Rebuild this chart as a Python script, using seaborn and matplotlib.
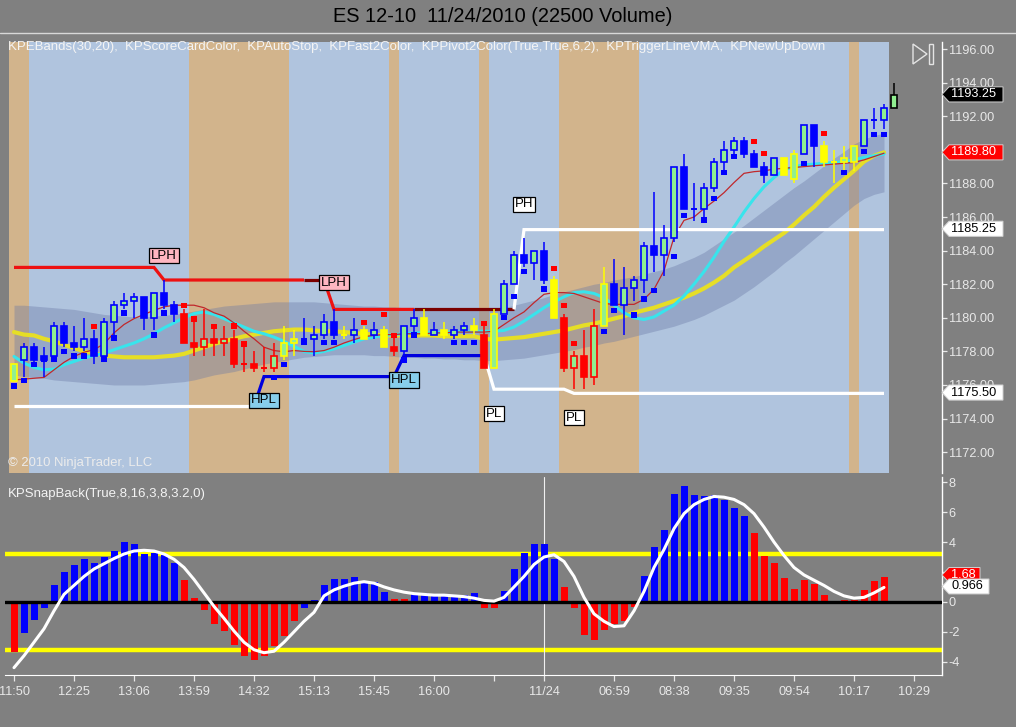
import itertools
import numpy as np
import matplotlib
matplotlib.use("Agg")
import matplotlib.pyplot as plt
from matplotlib.patches import Rectangle, Polygon
from matplotlib.lines import Line2D
import matplotlib.transforms as mtransforms
import seaborn as sns

# ---------------- price bars (one per 22500 contracts) ----------------
opens = [1176.25, 1177.5, 1178.25, 1177.5, 1177.75, 1179.5, 1178.5, 1178.25, 1178.75, 1177.75,
         1179.75, 1180.75, 1181.0, 1181.25, 1180.0, 1181.5, 1180.75, 1180.25, 1178.5, 1178.25,
         1178.75, 1178.5, 1178.75, 1177.25, 1177.25, 1177.0, 1177.0, 1177.75, 1178.5, 1178.75,
         1178.75, 1179.0, 1179.75, 1179.0, 1179.0, 1179.25, 1179.0, 1179.25, 1178.25, 1178.0,
         1179.5, 1180.0, 1179.0, 1179.25, 1179.0, 1179.25, 1179.5, 1179.0, 1177.0, 1180.25,
         1182.0, 1183.75, 1183.25, 1184.0, 1182.25, 1180.0, 1177.0, 1177.75, 1176.5, 1179.5,
         1182.0, 1180.75, 1181.75, 1182.25, 1184.25, 1183.75, 1184.75, 1189.0, 1186.5, 1186.5,
         1187.75, 1189.25, 1190.0, 1190.5, 1189.75, 1189.0, 1188.5, 1189.5, 1188.25, 1189.75,
         1191.5, 1190.25, 1189.25, 1189.25, 1189.25, 1190.25, 1191.75, 1191.75, 1192.5]
highs = [1177.25, 1178.5, 1178.5, 1178.25, 1179.75, 1179.75, 1179.5, 1180.0, 1179.25, 1180.0,
         1181.0, 1181.5, 1181.5, 1181.25, 1181.5, 1182.25, 1181.0, 1180.5, 1179.75, 1180.5,
         1179.5, 1179.5, 1179.25, 1178.25, 1178.0, 1178.25, 1178.5, 1179.5, 1179.25, 1180.0,
         1179.5, 1180.25, 1180.5, 1179.5, 1180.0, 1179.5, 1179.75, 1179.5, 1179.0, 1179.5,
         1180.5, 1180.5, 1179.75, 1179.75, 1179.5, 1179.75, 1180.0, 1179.5, 1180.5, 1182.25,
         1184.0, 1184.75, 1184.0, 1184.5, 1182.5, 1180.25, 1178.0, 1179.25, 1180.5, 1183.0,
         1183.5, 1183.0, 1182.5, 1184.5, 1187.5, 1185.5, 1189.0, 1189.75, 1188.0, 1188.0,
         1189.5, 1190.5, 1190.75, 1190.75, 1190.0, 1189.25, 1189.5, 1189.5, 1190.0, 1191.5,
         1191.5, 1190.5, 1190.0, 1190.25, 1190.25, 1191.75, 1192.5, 1192.75, 1194.0]
lows = [1176.25, 1176.5, 1177.25, 1176.5, 1177.75, 1178.25, 1178.0, 1178.0, 1177.25, 1177.5,
        1179.0, 1180.5, 1180.0, 1179.25, 1179.25, 1180.5, 1179.75, 1178.5, 1177.75, 1177.75,
        1177.75, 1177.75, 1177.0, 1176.75, 1176.75, 1176.75, 1176.75, 1177.5, 1177.75, 1178.5,
        1177.75, 1178.75, 1178.75, 1178.75, 1178.5, 1178.75, 1178.75, 1178.25, 1177.75, 1177.75,
        1179.0, 1179.0, 1179.0, 1178.75, 1178.75, 1179.0, 1179.0, 1177.0, 1177.0, 1180.25,
        1182.0, 1183.0, 1182.25, 1182.0, 1180.0, 1176.75, 1175.75, 1175.75, 1176.0, 1179.5,
        1180.75, 1179.0, 1181.0, 1181.5, 1182.75, 1182.5, 1184.5, 1186.5, 1185.75, 1186.0,
        1187.5, 1188.75, 1189.75, 1189.5, 1189.0, 1188.0, 1188.5, 1188.5, 1188.0, 1189.75,
        1189.0, 1189.0, 1188.0, 1188.75, 1188.75, 1190.25, 1191.25, 1191.25, 1192.5]
closes = [1177.25, 1178.25, 1177.5, 1177.75, 1179.5, 1178.5, 1178.25, 1178.75, 1177.75, 1179.75,
          1180.75, 1181.0, 1181.25, 1180.0, 1181.5, 1180.75, 1180.25, 1178.5, 1178.25, 1178.75,
          1178.5, 1178.75, 1177.25, 1177.25, 1177.0, 1177.0, 1177.75, 1178.5, 1178.75, 1178.75,
          1179.0, 1179.75, 1179.0, 1179.0, 1179.25, 1178.75, 1179.25, 1178.25, 1178.0, 1179.5,
          1180.0, 1179.0, 1179.25, 1179.0, 1179.25, 1179.5, 1179.25, 1177.0, 1180.25, 1182.0,
          1183.75, 1183.25, 1184.0, 1182.25, 1180.0, 1177.0, 1177.75, 1176.5, 1179.5, 1182.0,
          1180.75, 1181.75, 1182.25, 1184.25, 1183.75, 1184.75, 1189.0, 1186.5, 1186.5, 1187.75,
          1189.25, 1190.0, 1190.5, 1189.75, 1189.0, 1188.5, 1189.5, 1188.5, 1189.75, 1191.5,
          1190.25, 1189.25, 1189.25, 1189.5, 1190.25, 1191.75, 1191.75, 1192.5, 1193.25]
# scorecard colour per bar: B blue, R red, Y yellow, K current bar
bar_trend = ("Y" "BBBBBBBBBBBBBBBB" "RRRRRRRRRR" "YY" "BBBB" "YBYBYR" "BB" "YBY" "BB" "YRY"
             "BBBBB" "Y" "RRRR" "Y" "BBBBBBBBBBBBBBBBB" "YY" "BB" "YYYY" "BBB" "K")
# background per bar: T tan, L light steel blue
session_shade = ("TT" "LLLLLLLLLLLLLLLL" "TTTTTTTTTT" "LLLLLLLLLL" "T" "LLLLLLLL" "T"
                 "LLLLLLL" "TTTTTTTT" "LLLLLLLLLLLLLLLLLLLLL" "T" "LLL")

# ---------------- indicators (bars 0..87) ----------------
vma_slow = [1179.15, 1179.0, 1178.95, 1178.75, 1178.6, 1178.4, 1178.2, 1178.0, 1177.9, 1177.75,
            1177.7, 1177.65, 1177.65, 1177.65, 1177.65, 1177.7, 1177.75, 1177.85, 1178.05, 1178.25,
            1178.45, 1178.6, 1178.75, 1178.9, 1179.0, 1179.1, 1179.2, 1179.25, 1179.3, 1179.3,
            1179.25, 1179.2, 1179.2, 1179.15, 1179.1, 1179.05, 1179.0, 1178.95, 1178.95, 1178.95,
            1178.95, 1178.95, 1178.95, 1178.9, 1178.9, 1178.9, 1178.9, 1178.75, 1178.7, 1178.75,
            1178.8, 1178.85, 1178.95, 1179.05, 1179.15, 1179.25, 1179.4, 1179.55, 1179.65, 1179.8,
            1179.95, 1180.1, 1180.3, 1180.45, 1180.6, 1180.8, 1181.0, 1181.2, 1181.45, 1181.75,
            1182.1, 1182.5, 1183.0, 1183.4, 1183.8, 1184.25, 1184.65, 1185.05, 1185.55, 1186.1,
            1186.6, 1187.2, 1187.75, 1188.25, 1188.75, 1189.3, 1189.65, 1189.85]
fast_line = [1177.7, 1177.3, 1177.05, 1176.9, 1176.95, 1177.2, 1177.4, 1177.6, 1177.75, 1177.9,
             1178.1, 1178.3, 1178.5, 1178.75, 1179.05, 1179.4, 1179.7, 1180.0, 1180.25, 1180.35,
             1180.2, 1179.95, 1179.7, 1179.45, 1179.2, 1179.05, 1178.85, 1178.6, 1178.3, 1178.0,
             1177.9, 1178.0, 1178.15, 1178.35, 1178.55, 1178.75, 1178.85, 1178.95, 1179.0, 1179.05,
             1179.1, 1179.1, 1179.1, 1179.15, 1179.15, 1179.2, 1179.2, 1179.2, 1179.2, 1179.25,
             1179.45, 1179.8, 1180.2, 1180.6, 1180.95, 1181.25, 1181.5, 1181.55, 1181.45, 1181.2,
             1180.75, 1180.3, 1180.0, 1179.9, 1180.05, 1180.4, 1180.75, 1181.3, 1182.0, 1182.75,
             1183.6, 1184.55, 1185.4, 1186.3, 1187.1, 1187.8, 1188.35, 1188.8, 1189.0, 1189.1,
             1189.15, 1189.2, 1189.25, 1189.3, 1189.4, 1189.55, 1189.65, 1189.75]
trigger_line = [1176.3, 1176.35, 1176.4, 1176.45, 1176.9, 1177.35, 1177.7, 1177.95, 1178.1, 1178.45,
                1179.1, 1179.6, 1179.95, 1180.2, 1180.45, 1180.65, 1180.75, 1180.75, 1180.75, 1180.6,
                1180.3, 1180.1, 1179.7, 1179.2, 1178.75, 1178.25, 1178.05, 1177.98, 1178.05, 1178.0,
                1177.98, 1178.05, 1178.25, 1178.5, 1178.7, 1178.88, 1178.95, 1179.0, 1179.0, 1179.05,
                1179.05, 1179.05, 1179.1, 1179.1, 1179.15, 1179.15, 1179.15, 1179.15, 1179.2, 1179.6,
                1180.0, 1180.35, 1180.9, 1181.4, 1181.5, 1181.5, 1181.45, 1181.25, 1181.05, 1180.85,
                1180.8, 1180.8, 1180.8, 1181.1, 1181.7, 1182.8, 1184.8, 1185.8, 1186.0, 1186.5,
                1186.95, 1187.45, 1188.05, 1188.6, 1188.7, 1188.75, 1188.85, 1188.9, 1188.95, 1189.0,
                1189.05, 1189.1, 1189.15, 1189.2, 1189.25, 1189.4, 1189.6, 1189.8]
band_upper = [1180.75, 1180.75, 1180.7, 1180.65, 1180.6, 1180.55, 1180.5, 1180.4, 1180.3, 1180.2,
              1180.15, 1180.1, 1180.05, 1180.05, 1180.1, 1180.15, 1180.2, 1180.3, 1180.4, 1180.5,
              1180.6, 1180.7, 1180.75, 1180.8, 1180.85, 1180.9, 1180.95, 1180.95, 1180.95, 1180.95,
              1180.95, 1180.9, 1180.85, 1180.8, 1180.75, 1180.7, 1180.7, 1180.65, 1180.65, 1180.6,
              1180.6, 1180.55, 1180.55, 1180.5, 1180.5, 1180.5, 1180.45, 1180.45, 1180.5, 1180.6,
              1180.75, 1180.9, 1181.05, 1181.2, 1181.4, 1181.55, 1181.7, 1181.85, 1182.0, 1182.1,
              1182.25, 1182.35, 1182.45, 1182.6, 1182.75, 1182.9, 1183.1, 1183.35, 1183.6, 1183.9,
              1184.3, 1184.7, 1185.1, 1185.5, 1185.95, 1186.4, 1186.85, 1187.3, 1187.75, 1188.15,
              1188.6, 1189.05, 1189.5, 1189.9, 1190.35, 1190.65, 1190.85, 1191.0]
band_lower = [1176.6, 1176.5, 1176.45, 1176.4, 1176.3, 1176.25, 1176.2, 1176.15, 1176.1, 1176.05,
              1176.0, 1176.0, 1176.0, 1176.0, 1176.05, 1176.1, 1176.15, 1176.2, 1176.3, 1176.45,
              1176.6, 1176.7, 1176.8, 1176.95, 1177.1, 1177.25, 1177.35, 1177.45, 1177.55, 1177.65,
              1177.7, 1177.75, 1177.8, 1177.8, 1177.8, 1177.8, 1177.75, 1177.75, 1177.7, 1177.65,
              1177.65, 1177.6, 1177.6, 1177.55, 1177.55, 1177.5, 1177.5, 1177.45, 1177.45, 1177.5,
              1177.55, 1177.6, 1177.7, 1177.8, 1177.9, 1178.0, 1178.1, 1178.25, 1178.35, 1178.5,
              1178.6, 1178.75, 1178.9, 1179.05, 1179.2, 1179.35, 1179.5, 1179.7, 1179.9, 1180.15,
              1180.45, 1180.75, 1181.05, 1181.45, 1181.85, 1182.3, 1182.75, 1183.25, 1183.7, 1184.2,
              1184.7, 1185.2, 1185.7, 1186.2, 1186.7, 1187.1, 1187.35, 1187.5]

# auto-stop squares
stop_bar = [0, 1, 2, 3, 4, 5, 6, 7, 8, 9, 10, 11, 14, 15, 17, 18, 20, 22, 23, 26, 27, 29, 31, 32,
            35, 37, 38, 39, 40, 44, 45, 46, 47, 49, 50, 51, 53, 54, 55, 56, 59, 60, 62, 63, 64,
            66, 67, 69, 70, 71, 72, 74, 75, 79, 81, 83, 85, 86, 87]
stop_val = [1175.94, 1176.25, 1177.2, 1177.55, 1177.55, 1177.98, 1177.73, 1177.73, 1179.47, 1177.55,
            1178.8, 1180.29, 1178.98, 1180.29, 1180.72, 1179.93, 1179.47, 1179.51, 1178.44, 1176.45,
            1177.2, 1178.52, 1178.52, 1178.52, 1179.73, 1180.2, 1178.93, 1177.49, 1178.98, 1178.52,
            1178.52, 1178.52, 1179.67, 1180.03, 1181.28, 1182.77, 1181.71, 1182.95, 1180.72, 1178.48,
            1179.2, 1180.43, 1180.17, 1181.12, 1181.61, 1183.64, 1186.08, 1185.82, 1187.11, 1188.64,
            1189.59, 1190.48, 1189.79, 1189.2, 1190.98, 1188.64, 1189.89, 1190.92, 1190.92]
stop_side = ["B", "B", "B", "B", "B", "B", "B", "B", "R", "B", "B", "B", "B", "B", "R", "R", "R",
             "R", "R", "B", "B", "B", "B", "B", "R", "R", "R", "B", "B", "B", "B", "B", "R", "B",
             "B", "B", "B", "R", "R", "R", "B", "B", "B", "B", "B", "B", "B", "B", "B", "B", "B",
             "R", "R", "B", "R", "B", "B", "B", "B"]

# pivot levels (value holds from start bar until next start)
resist_levels = [1183.0, 1182.25, 1180.5, 1185.25]
resist_starts = [0, 15, 32, 51]
resist_color = "r" * 30 + "dd" + "r" * 9 + "d" * 10 + "w" * 37
support_levels = [1174.75, 1176.5, 1177.75, 1175.75, 1175.5]
support_starts = [0, 25, 39, 48, 56]
support_color = "w" * 25 + "b" * 23 + "w" * 40

pivot_text = ["LPH", "LPH", "HPL", "HPL", "PH", "PL", "PL"]
pivot_bar = [15, 32, 25, 39, 51, 48, 56]
pivot_val = [1183.7, 1182.1, 1175.1, 1176.3, 1186.75, 1174.3, 1174.05]

# ---------------- KPSnapBack ----------------
snap_hist = [-3.38, -2.09, -1.24, -0.42, 1.13, 1.98, 2.47, 2.87, 2.58, 2.98,
             3.4, 3.98, 3.84, 3.2, 3.24, 3.13, 2.58, 1.47, 0.24, -0.53,
             -1.47, -1.93, -2.87, -3.64, -3.87, -3.6, -2.98, -2.27, -1.31, -0.38,
             0.13, 1.13, 1.53, 1.53, 1.69, 1.31, 1.31, 0.69, 0.18, 0.18,
             0.58, 0.58, 0.49, 0.36, 0.36, 0.49, 0.58, -0.38, -0.4, 0.73,
             2.18, 3.24, 3.87, 3.87, 2.87, 0.98, -0.42, -2.2, -2.58, -1.87,
             -1.47, -1.31, -0.31, 1.73, 3.69, 4.8, 7.2, 7.73, 7.13, 7.07,
             7.13, 6.8, 6.29, 5.73, 4.58, 3.07, 2.58, 1.58, 0.87, 1.47,
             1.2, 0.47, 0.0, 0.13, 0.13, 0.8, 1.4, 1.68]
snap_color = ("R" "BBBBBBBBBBBBBBBB" "RRRRRRRRRRRR" "BBBBBBBBB" "RR" "BBBBBBB" "RR" "BBBBBB"
              "RRRRRRRR" "BBBBBBBBBBB" "RRRRRRRRRRRRRR")
snap_signal = [-4.4, -3.6, -2.7, -1.8, -0.6, 0.5, 1.1, 1.7, 2.2, 2.55,
               2.9, 3.2, 3.4, 3.45, 3.4, 3.2, 2.85, 2.3, 1.5, 0.6,
               -0.3, -1.1, -1.95, -2.7, -3.2, -3.4, -3.3, -2.7, -2.0, -1.3,
               -0.7, 0.4, 0.8, 1.05, 1.25, 1.35, 1.25, 1.0, 0.8, 0.65,
               0.55, 0.5, 0.45, 0.45, 0.4, 0.35, 0.25, 0.1, 0.05, 0.3,
               1.0, 1.7, 2.5, 3.0, 3.15, 2.7, 1.7, 0.3, -0.8, -1.3,
               -1.65, -1.6, -0.6, 0.7, 2.3, 3.5, 4.9, 5.9, 6.5, 6.85,
               7.05, 7.0, 6.85, 6.5, 5.9, 5.0, 4.0, 3.1, 2.3, 1.8,
               1.45, 1.1, 0.7, 0.4, 0.25, 0.3, 0.6, 0.966]
snap_band = 3.2

time_tick_bar = [0, 6, 12, 18, 24, 30, 36, 42, 48, 53, 60, 66, 72, 78, 84, 90]
time_tick_label = ["11:50", "12:25", "13:06", "13:59", "14:32", "15:13", "15:45", "16:00", "",
                   "11/24", "06:59", "08:38", "09:35", "09:54", "10:17", "10:29"]
date_break_bar = 53

price_ticks = [1172, 1174, 1176, 1178, 1180, 1182, 1184, 1186, 1188, 1190, 1192, 1194, 1196]
price_tick_labels = ["1172.00", "1174.00", "1176.00", "1178.00", "1180.00", "1182.00", "1184.00",
                     "1186.00", "1188.00", "", "1192.00", "1194.00", "1196.00"]  # 1190 sits under a flag
snap_ticks = [-4, -2, 0, 2, 4, 6, 8]
snap_tick_labels = ["-4", "-2", "0", "", "4", "6", "8"]  # 2 sits under the flags

# ---------------- styling ----------------
GRAY = "#808080"
LIGHT = "#E8E8E8"
trend_col = {"B": "#0000FF", "R": "#FF0000", "Y": "#FFFF00", "K": "#000000"}
shade_col = {"T": "#D2B48C", "L": "#B0C4DE"}
level_col = {"r": "#EE1111", "d": "#7A0000", "w": "#FFFFFF", "b": "#0000DD"}

sns.set_style("dark")
plt.rcParams["font.family"] = ["Liberation Sans", "DejaVu Sans"]

W, H = 1016, 727
fig = plt.figure(figsize=(W / 100, H / 100), dpi=100, facecolor=GRAY)


def fx(px):
    return px / W


def fy(py):
    return 1 - py / H


L_PX, R_PX = 5, 942
ax = fig.add_axes([fx(L_PX), fy(473), fx(R_PX) - fx(L_PX), fy(42) - fy(473)])
ax2 = fig.add_axes([fx(L_PX), fy(675), fx(R_PX) - fx(L_PX), fy(477) - fy(675)])

n_ind = len(vma_slow)
ind_x = list(range(n_ind))

# session background
pos = 0
for key, grp in itertools.groupby(session_shade):
    k = len(list(grp))
    ax.axvspan(pos - 0.5, pos + k - 0.5, color=shade_col[key], lw=0, zorder=0)
    pos += k

# KPEBands
ax.fill_between(ind_x, band_lower, band_upper, color="#6A78A6", alpha=0.38, lw=0, zorder=1)

sns.lineplot(x=ind_x, y=vma_slow, ax=ax, color="#E6DE26", linewidth=3.0, zorder=2)
sns.lineplot(x=ind_x, y=fast_line, ax=ax, color="#38E4EC", linewidth=2.2, zorder=2)
sns.lineplot(x=ind_x, y=trigger_line, ax=ax, color="#C0282C", linewidth=0.9, zorder=3)


def expand(levels, starts, n):
    out = []
    for j, lv in enumerate(levels):
        end = starts[j + 1] if j + 1 < len(starts) else n
        out += [lv] * (end - starts[j])
    return out


def draw_levels(a, vals, cols):
    n = len(vals)
    start = 0
    for i in range(1, n + 1):
        if i == n or cols[i] != cols[start]:
            s = max(start - 1, 0)
            a.plot(range(s, i), vals[s:i], color=level_col[cols[start]], lw=2.3,
                   solid_capstyle="butt", solid_joinstyle="miter", zorder=4)
            start = i


draw_levels(ax, expand(resist_levels, resist_starts, n_ind), resist_color)
draw_levels(ax, expand(support_levels, support_starts, n_ind), support_color)

# candles
bw = 0.64
for i in range(len(opens)):
    o, h, l, c = opens[i], highs[i], lows[i], closes[i]
    col = trend_col[bar_trend[i]]
    ax.vlines(i, l, h, color=col, lw=1.1, zorder=5)
    if c > o:
        ax.add_patch(Rectangle((i - bw / 2, o), bw, c - o, fc="#90EE90", ec=col, lw=1.2, zorder=6))
    elif c < o:
        ax.add_patch(Rectangle((i - bw / 2, c), bw, o - c, fc=col, ec=col, lw=1.2, zorder=6))
    else:
        ax.hlines(o, i - bw / 2, i + bw / 2, color=col, lw=1.4, zorder=6)

sns.scatterplot(x=stop_bar, y=stop_val, hue=stop_side, palette={"B": "#0000FF", "R": "#FF0000"},
                marker="s", s=14, linewidth=0, legend=False, ax=ax, zorder=7)

pivot_fill = {"LPH": "#FFB6C1", "HPL": "#87CEEB", "PH": "#FFFFFF", "PL": "#FFFFFF"}
for t, b, v in zip(pivot_text, pivot_bar, pivot_val):
    ax.text(b, v, t, ha="center", va="center", fontsize=9.5, color="black", zorder=8,
            bbox=dict(boxstyle="square,pad=0.12", fc=pivot_fill[t], ec="black", lw=0.9))

# snapback panel
ax2.axhline(snap_band, color="#FFFF00", lw=3.2, zorder=1)
ax2.axhline(-snap_band, color="#FFFF00", lw=3.2, zorder=1)
ax2.axvline(date_break_bar, color="#F0F0F0", lw=0.8, zorder=1)
ax2.bar(range(len(snap_hist)), snap_hist, width=0.7,
        color=[trend_col[k] for k in snap_color], lw=0, zorder=3)
ax2.axhline(0, color="black", lw=2.4, zorder=4)
sns.lineplot(x=list(range(len(snap_signal))), y=snap_signal, ax=ax2, color="white",
             linewidth=2.2, zorder=5)

# axes cosmetics
for a in (ax, ax2):
    a.set_facecolor(GRAY)
    a.grid(False)
    for sp in a.spines.values():
        sp.set_visible(False)
    a.spines["right"].set_visible(True)
    a.spines["right"].set_color("white")
    a.spines["right"].set_linewidth(1.0)
    a.set_xlim(-0.9, 92.8)
    a.yaxis.tick_right()
    a.set_xlabel("")
    a.set_ylabel("")
    a.tick_params(axis="y", which="both", direction="out", length=3.5, width=0.9,
                  colors=LIGHT, labelsize=9.2, pad=1.2, left=False, right=True)

ax.set_ylim(1170.76, 1196.42)
ax.set_yticks(price_ticks)
ax.set_yticklabels(price_tick_labels)
ax.set_xticks([])

ax2.set_ylim(-4.89, 8.35)
ax2.set_yticks(snap_ticks)
ax2.set_yticklabels(snap_tick_labels)
ax2.spines["bottom"].set_visible(True)
ax2.spines["bottom"].set_color("white")
ax2.set_xticks(time_tick_bar)
ax2.set_xticklabels(time_tick_label)
ax2.tick_params(axis="x", direction="out", length=4, width=0.9, colors=LIGHT,
                labelsize=9.2, pad=4, bottom=True)


def flag(a, y, text, fc, tc, width_px, h):
    tr = mtransforms.blended_transform_factory(a.transAxes, a.transData)
    px = 1.0 / (R_PX - L_PX)
    x1, x2 = 1.0 + 7 * px, 1.0 + width_px * px
    poly = Polygon([(1.0, y), (x1, y + h / 2), (x2, y + h / 2), (x2, y - h / 2), (x1, y - h / 2)],
                   closed=True, transform=tr, fc=fc, ec="#D0D0D0", lw=0.7, clip_on=False, zorder=10)
    a.add_artist(poly)
    a.text(1.0 + 9 * px, y, text, transform=tr, ha="left", va="center", fontsize=9.2,
           color=tc, clip_on=False, zorder=11)


flag(ax, 1193.3, "1193.25", "#000000", "white", 61, 0.9)
flag(ax, 1189.85, "1189.80", "#FF0000", "white", 61, 0.9)
flag(ax, 1185.3, "1185.25", "#FFFFFF", "black", 61, 0.9)
flag(ax, 1175.55, "1175.50", "#FFFFFF", "black", 61, 0.9)
flag(ax2, 1.8, "1.68", "#FF0000", "white", 38, 1.0)
flag(ax2, 1.03, "0.966", "#FFFFFF", "black", 47, 1.0)

# texts and small furniture
fig.text(fx(503), fy(17), "ES 12-10  11/24/2010 (22500 Volume)", ha="center", va="center",
         fontsize=14.4, color="black")
fig.text(fx(8), fy(47), "KPEBands(30,20),  KPScoreCardColor,  KPAutoStop,  KPFast2Color,  "
         "KPPivot2Color(True,True,6,2),  KPTriggerLineVMA,  KPNewUpDown",
         ha="left", va="center", fontsize=9.5, color="#F4F4F4")
fig.text(fx(8), fy(463), "\u00a9 2010 NinjaTrader, LLC", ha="left", va="center",
         fontsize=9.4, color="#ECECEC")
fig.text(fx(8), fy(494), "KPSnapBack(True,8,16,3,8,3.2,0)", ha="left", va="center",
         fontsize=9.5, color="#F4F4F4")
fig.add_artist(Line2D([0, 1], [fy(33), fy(33)], color="#D8D8D8", lw=1.0))
fig.add_artist(Polygon([(fx(913), fy(44)), (fx(927), fy(54)), (fx(913), fy(64))], closed=True,
                       fill=False, ec="#E4E4E4", lw=1.0, transform=fig.transFigure))
fig.add_artist(Rectangle((fx(929), fy(64)), fx(4), fy(44) - fy(64), fill=False, ec="#E4E4E4",
                         lw=1.0, transform=fig.transFigure))

fig.savefig("out.png", dpi=100, facecolor=GRAY)
